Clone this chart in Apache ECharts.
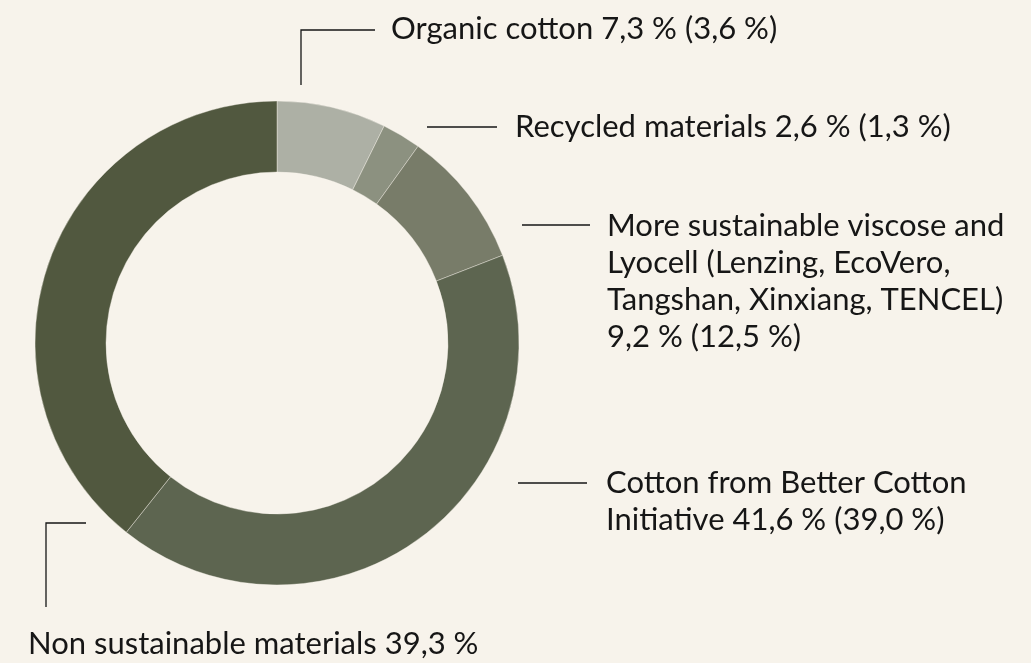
<!DOCTYPE html>
<html>
<head>
<meta charset="utf-8">
<script src="https://cdn.jsdelivr.net/npm/echarts@6/dist/echarts.min.js"></script>
<style>
  html, body { margin: 0; padding: 0; background: #f7f3eb; }
  #chart { width: 1031px; height: 663px; }
</style>
</head>
<body>
<div id="chart"></div>
<script>
// material shares, current year and (previous year)
const names = [
  'Organic cotton',
  'Recycled materials',
  'More sustainable viscose and\nLyocell (Lenzing, EcoVero,\nTangshan, Xinxiang, TENCEL)\n',
  'Cotton from Better Cotton\nInitiative',
  'Non sustainable materials'
];
const shares = [7.3, 2.6, 9.2, 41.6, 39.3];
const previous = [3.6, 1.3, 12.5, 39.0, null];

const colors = ['#adb0a5', '#8c9180', '#787c69', '#5d6550', '#51583f'];

// label anchors and leader lines (layout only)
const labelPos = [
  { x: 391, y: 10, line: [[301, 85], [301, 30], [375, 30]] },
  { x: 515, y: 108, line: [[427, 127], [462, 127], [497, 127]] },
  { x: 607, y: 207, line: [[522, 225], [556, 225], [590, 225]] },
  { x: 606, y: 464, line: [[518, 483], [552, 483], [587, 483]] },
  { x: 28, y: 625, line: [[86, 523], [46, 523], [46, 607]] }
];

const fmt = v => v.toFixed(1).replace('.', ',') + ' %';

const chart = echarts.init(document.getElementById('chart'));
chart.setOption({
  backgroundColor: '#f7f3eb',
  animation: false,
  series: [{
    type: 'pie',
    center: [277, 343],
    radius: [171, 242],
    startAngle: 90,
    clockwise: true,
    silent: true,
    avoidLabelOverlap: false,
    itemStyle: { borderColor: '#f7f3eb', borderWidth: 0.4 },
    data: names.map((n, i) => ({
      name: n,
      value: shares[i],
      itemStyle: { color: colors[i] }
    })),
    label: {
      show: true,
      overflow: 'none',
      formatter: p => {
        const i = p.dataIndex;
        const sep = names[i].endsWith('\n') ? '' : ' ';
        let s = names[i] + sep + fmt(shares[i]);
        if (previous[i] != null) s += ' (' + fmt(previous[i]) + ')';
        return s;
      },
      fontFamily: 'Lato',
      fontSize: 31,
      lineHeight: 37,
      color: '#161616'
    },
    labelLine: {
      show: true,
      lineStyle: { color: '#161616', width: 1.3 }
    },
    labelLayout: p => {
      const l = labelPos[p.dataIndex];
      return {
        x: l.x,
        y: l.y,
        align: 'left',
        verticalAlign: 'top',
        labelLinePoints: l.line
      };
    }
  }]
});
</script>
</body>
</html>
